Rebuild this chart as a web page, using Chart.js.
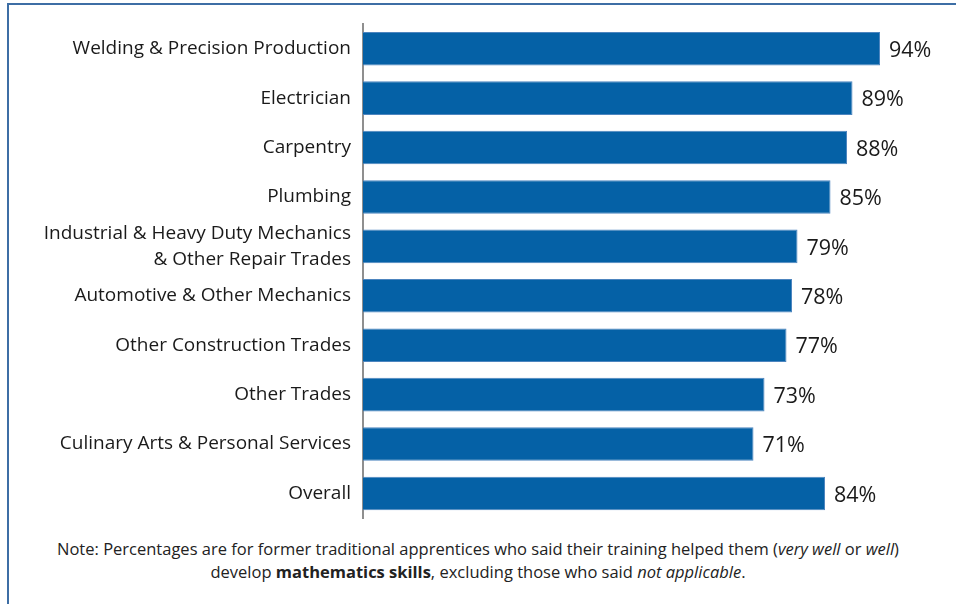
<!DOCTYPE html>
<html>
<head>
<meta charset="utf-8">
<script src="https://cdn.jsdelivr.net/npm/chart.js@4"></script>
<style>
  html, body { margin: 0; padding: 0; background: #fff; }
  body { width: 956px; height: 604px; position: relative; overflow: hidden; font-family: "Open Sans", sans-serif; }
  .frame { position: absolute; left: 7px; top: 3px; width: 1000px; height: 700px; border-top: 2px solid #3d6ea5; border-left: 2px solid #3d6ea5; }
  .wrap { position: absolute; left: 0; top: 0; width: 956px; height: 535px; }
  .note { position: absolute; left: 0; top: 537px; width: 956px; text-align: center; font-size: 16.5px; line-height: 23px; color: #222; }
</style>
</head>
<body>
<div class="frame"></div>
<div class="wrap"><canvas id="chartjs"></canvas></div>
<div class="note">Note: Percentages are for former traditional apprentices who said their training helped them (<i>very well</i> or <i>well</i>)<br>develop <b>mathematics skills</b>, excluding those who said <i>not applicable</i>.</div>
<script>
const trades = [
  "Welding & Precision Production",
  "Electrician",
  "Carpentry",
  "Plumbing",
  ["Industrial & Heavy Duty Mechanics", "& Other Repair Trades"],
  "Automotive & Other Mechanics",
  "Other Construction Trades",
  "Other Trades",
  "Culinary Arts & Personal Services",
  "Overall"
];
const mathHelped = [94, 89, 88, 85, 79, 78, 77, 73, 71, 84];

// write the percentage just past the end of each bar
const valueLabels = {
  id: "valueLabels",
  afterDatasetsDraw(chart) {
    const ctx = chart.ctx;
    const meta = chart.getDatasetMeta(0);
    ctx.save();
    ctx.font = '21.5px "Open Sans", sans-serif';
    ctx.fillStyle = "#1a1a1a";
    ctx.textAlign = "left";
    ctx.textBaseline = "middle";
    meta.data.forEach((bar, i) => {
      ctx.fillText(mathHelped[i] + "%", bar.x + 9, bar.y + 2);
    });
    ctx.restore();
  }
};

const chartElem = document.getElementById("chartjs");
new Chart(chartElem, {
  type: "bar",
  data: {
    labels: trades,
    datasets: [
      {
        data: mathHelped,
        backgroundColor: "#0561a6",
        borderColor: "#4d85bf",
        borderWidth: 1,
        barPercentage: 0.68,
        categoryPercentage: 1
      }
    ]
  },
  plugins: [valueLabels],
  options: {
    indexAxis: "y",
    responsive: true,
    maintainAspectRatio: false,
    animation: false,
    layout: { padding: { left: 0, right: 43, top: 24, bottom: 10 } },
    plugins: { legend: { display: false }, tooltip: { enabled: false } },
    scales: {
      x: { display: false, min: 0, max: 100 },
      y: {
        grid: { display: false },
        border: { display: true, color: "#8f8f8f", width: 2 },
        ticks: {
          autoSkip: false,
          padding: 4,
          color: "#1a1a1a",
          font: { family: '"Open Sans", sans-serif', size: 19, lineHeight: 1.35 }
        },
        afterFit(scale) {
          scale.width = 363;
        }
      }
    }
  }
});
</script>
</body>
</html>
